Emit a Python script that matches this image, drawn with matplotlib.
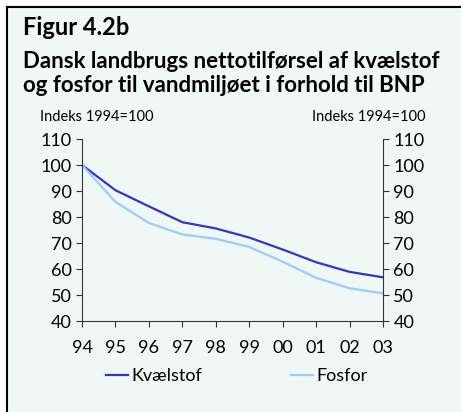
import matplotlib
matplotlib.use('Agg')
import matplotlib.pyplot as plt
from matplotlib.patches import Rectangle
from matplotlib.lines import Line2D

years = ['94', '95', '96', '97', '98', '99', '00', '01', '02', '03']
kvaelstof = [100, 90.3, 84.1, 78.0, 75.6, 72.1, 67.5, 62.6, 58.9, 56.8]
fosfor = [100, 85.8, 77.7, 73.3, 71.6, 68.5, 62.8, 56.6, 52.6, 50.6]
yticks = [40, 50, 60, 70, 80, 90, 100, 110]

bg = '#f0f8f6'
col_n = '#3333cc'
col_p = '#99ccff'
W, H = 461, 412

plt.rcParams['font.family'] = ['Lato', 'DejaVu Sans']

fig = plt.figure(figsize=(W / 100, H / 100), dpi=100)
fig.patch.set_facecolor('white')

# panel background with border on left and top
fig.add_artist(Rectangle((7 / W, 0), 1, 1 - 7 / H, transform=fig.transFigure,
                         facecolor=bg, edgecolor='none', zorder=0))
fig.add_artist(Line2D([7 / W, 7 / W], [0, 1 - 7 / H], transform=fig.transFigure,
                      color='black', lw=1.5))
fig.add_artist(Line2D([7 / W, 1], [1 - 7 / H, 1 - 7 / H], transform=fig.transFigure,
                      color='black', lw=1.5))

fig.text(23 / W, 1 - 35 / H, 'Figur 4.2b', fontsize=17, fontweight='bold', va='baseline')
fig.text(23 / W, 1 - 68 / H, 'Dansk landbrugs nettotilførsel af kvælstof',
         fontsize=16, fontweight='bold', va='baseline')
fig.text(23 / W, 1 - 92 / H, 'og fosfor til vandmiljøet i forhold til BNP',
         fontsize=16, fontweight='bold', va='baseline')
fig.text(40 / W, 1 - 121 / H, 'Indeks 1994=100', fontsize=10.5, va='baseline')
fig.text(425 / W, 1 - 121 / H, 'Indeks 1994=100', fontsize=10.5, va='baseline', ha='right')

ax = fig.add_axes([82 / W, 1 - 321 / H, 301 / W, 182 / H])
ax.set_facecolor('none')
x = range(len(years))
ln1, = ax.plot(x, kvaelstof, color=col_n, lw=1.6, label='Kvælstof')
ln2, = ax.plot(x, fosfor, color=col_p, lw=1.6, label='Fosfor')
ax.set_xlim(0, len(years) - 1)
ax.set_ylim(40, 110)
ax.set_yticks(yticks)
ax.set_xticks(list(x))
ax.set_xticklabels(years)
for s in ['top', 'right']:
    ax.spines[s].set_visible(False)
for s in ['left', 'bottom']:
    ax.spines[s].set_color('#333333')
ax.tick_params(direction='out', length=4, labelsize=13, color='#333333')
ax.tick_params(axis='x', pad=10)

ax2 = ax.twinx()
ax2.set_ylim(40, 110)
ax2.set_yticks(yticks)
for s in ['top', 'left', 'bottom']:
    ax2.spines[s].set_visible(False)
ax2.spines['right'].set_color('#333333')
ax2.tick_params(direction='out', length=4, labelsize=13, color='#333333')

for ln, lab, x0 in [(ln1, 'Kvælstof', 106), (ln2, 'Fosfor', 291)]:
    fig.legend(handles=[ln], labels=[lab], loc='center left',
               bbox_to_anchor=(x0 / W, 1 - 376 / H), frameon=False,
               fontsize=13, handlelength=1.2, handletextpad=0.2,
               borderpad=0, borderaxespad=0)

fig.savefig('out.png', dpi=100, facecolor=fig.get_facecolor())
